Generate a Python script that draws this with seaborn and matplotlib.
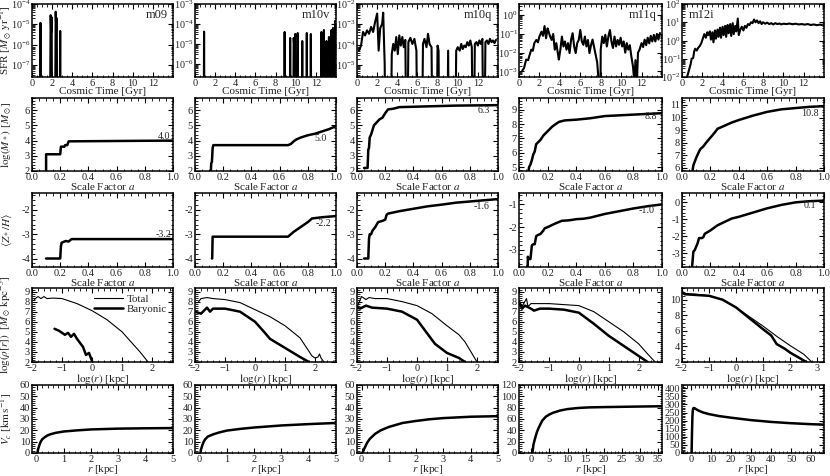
import numpy as np
import matplotlib
matplotlib.use("Agg")
import matplotlib.pyplot as plt
import seaborn as sns
from matplotlib.ticker import AutoMinorLocator, MultipleLocator, FuncFormatter, LogLocator, NullFormatter

sns.set_theme(style="ticks")
plt.rcParams['font.family'] = ['Liberation Serif', 'DejaVu Serif']
plt.rcParams['mathtext.fontset'] = 'stix'

names = ["m09", "m10v", "m10q", "m11q", "m12i"]

# ---------------- Row 1: SFR (log10 values; -12 = no star formation) ----------------
t_m09 = [0.0, 0.76, 0.84, 0.90, 1.76, 1.85, 1.90, 1.95, 2.01, 2.27, 2.35, 2.41, 2.46, 2.52, 2.73, 2.80, 2.86, 14.0]
lsfr_m09 = [-12, -12, -4.93, -12, -12, -4.55, -5.4, -4.65, -12, -12, -4.38, -5.3, -4.7, -12, -12, -5.33, -12, -12]

t_m10v = [0.0, 0.84, 0.9, 0.96, 8.82, 8.9, 8.98, 9.38, 9.45, 9.52, 9.72, 9.8, 9.86, 9.95, 10.02, 10.14, 10.2, 10.27,
          10.58, 10.65, 10.72, 11.03, 11.1, 11.17, 11.43, 11.5, 11.57, 12.48, 12.55, 12.62, 12.72, 12.8, 12.87, 12.98,
          13.05, 13.12, 13.23, 13.3, 13.37, 13.48, 13.55, 13.62, 13.7, 13.77, 13.84, 13.9, 14.0]
lsfr_m10v = [-12, -12, -4.38, -12, -12, -4.4, -12, -12, -4.7, -12, -12, -4.7, -5.2, -4.5, -12, -12, -4.45, -12,
             -12, -4.85, -12, -12, -4.45, -12, -12, -4.5, -12, -12, -4.4, -12, -12, -4.3, -12, -12,
             -4.85, -12, -12, -4.65, -12, -12, -4.3, -12, -4.2, -12, -12, -3.85, -3.85]

t_m10q = [0.2, 0.4, 0.6, 0.8, 1.0, 1.2, 1.4, 1.6, 1.8, 2.0, 2.15, 2.3, 2.5, 2.6, 2.75, 2.85, 3.3, 3.45, 3.6, 3.75,
          3.9, 4.05, 4.2, 4.35, 4.5, 4.65, 4.8, 4.95, 5.1, 5.3, 5.5, 5.7, 5.9, 6.05, 6.4, 6.55, 6.7, 6.9, 7.05,
          7.2, 7.4, 7.55, 7.85, 8.0, 8.1, 8.2, 8.9, 9.05, 9.15, 9.7, 9.85, 10.0, 10.2, 10.35, 10.5, 10.65, 10.8,
          10.95, 11.1, 11.25, 11.4, 11.55, 11.7, 11.85, 12.0, 12.15, 12.3, 12.45, 12.6, 12.75, 12.9, 13.05, 13.2,
          13.35, 13.5, 13.65, 13.8]
lsfr_m10q = [-4.3, -4.05, -3.38, -3.55, -3.3, -3.47, -3.13, -3.38, -2.88, -2.47, -4.3, -3.2, -2.97, -2.43, -4.97, -12, -12,
             -4.47, -3.97, -4.3, -3.63, -4.47, -3.55, -4.05, -3.63, -4.13, -3.77, -12, -3.88, -3.67, -3.97, -3.72,
             -4.3, -12, -12, -3.97, -3.72, -4.13, -3.47, -3.97, -4.13, -12, -12, -4.05, -4.3, -12, -12, -4.3, -12,
             -12, -4.3, -4.13, -4.3, -3.97, -4.22, -4.05, -4.13, -3.88, -4.05, -3.8, -4.13, -12, -3.97, -3.88,
             -4.05, -3.8, -3.97, -3.72, -12, -3.88, -3.8, -3.97, -3.72, -3.88, -3.8, -3.93, -3.77]

t_m11q = [0.3, 0.5, 0.7, 0.9, 1.0, 1.2, 1.35, 1.5, 1.7, 1.85, 2.0, 2.2, 2.35, 2.5, 2.65, 2.8, 2.9, 3.05, 3.2, 3.35,
          3.5, 3.65, 3.8, 3.9, 4.05, 4.2, 4.35, 4.5, 4.65, 4.8, 4.95, 5.1, 5.25, 5.4, 5.55, 5.7, 5.85, 6.0, 6.15,
          6.3, 6.45, 6.6, 6.75, 6.9, 7.05, 7.2, 7.35, 7.5, 7.65, 7.8, 7.9, 8.0, 8.15, 8.3, 8.45, 8.6, 8.75, 8.9,
          9.05, 9.2, 9.35, 9.5, 9.65, 9.8, 9.95, 10.1, 10.25, 10.4, 10.55, 10.7, 10.85, 11.0, 11.15, 11.3, 11.4,
          11.55, 11.65, 11.8, 12.0, 12.15, 12.3, 12.45, 12.6, 12.75, 12.9, 13.05, 13.2, 13.35, 13.5, 13.65, 13.8]
lsfr_m11q = [-2.98, -2.81, -2.37, -2.4, -2.19, -1.84, -1.9, -1.49, -1.32, -1.45, -1.14, -0.88, -1.1, -0.58, -1.23,
             -0.7, -0.88, -1.14, -1.32, -1.0, -1.84, -1.49, -2.02, -2.37, -1.84, -1.14, -1.67, -1.4, -1.84, -1.49,
             -2.02, -1.3, -0.96, -1.67, -2.02, -1.49, -1.32, -0.79, -1.4, -1.58, -1.14, -1.67, -1.32, -2.02, -1.6,
             -1.3, -1.7, -2.1, -2.5, -3.5, -12, -1.84, -1.14, -1.49, -1.05, -1.67, -1.14, -0.79, -1.4, -1.75, -1.14,
             -1.67, -1.32, -1.58, -1.2, -1.67, -1.4, -2.0, -1.49, -1.84, -1.6, -2.2, -2.7, -3.6, -2.4, -3.5, -2.0,
             -1.84, -1.49, -1.7, -1.3, -1.6, -1.2, -1.5, -1.1, -1.4, -1.05, -1.4, -1.0, -1.3, -0.95]

t_m12i = [0.4, 0.5, 0.7, 0.85, 0.95, 1.1, 1.2, 1.3, 1.45, 1.6, 1.75, 1.9, 2.05, 2.2, 2.35, 2.5, 2.6, 2.75, 2.85,
          3.0, 3.1, 3.25, 3.35, 3.5, 3.6, 3.75, 3.85, 4.0, 4.1, 4.25, 4.35, 4.5, 4.6, 4.75, 4.85, 5.0, 5.1, 5.25,
          5.35, 5.5, 5.6, 5.75, 5.9, 6.05, 6.2, 6.35, 6.5, 6.65, 6.8, 6.95, 7.1, 7.25, 7.4, 7.55, 7.7, 7.85, 8.0,
          8.2, 8.4, 8.6, 8.8, 9.0, 9.2, 9.4, 9.6, 9.8, 10.0, 10.3, 10.6, 10.9, 11.2, 11.5, 11.8, 12.1, 12.4, 12.7,
          13.0, 13.3, 13.6, 13.8]
lsfr_m12i = [-2.2, -2.0, -1.6, -1.3, -1.0, -0.96, -0.6, -0.45, -0.55, -0.4, -0.3, -0.15, 0.1, 0.35, 0.15, 0.45, 0.3,
             0.5, 0.05, 0.45, -0.1, 0.55, 0.1, 0.6, 0.2, 0.7, 0.15, 0.75, 0.3, 0.8, 0.2, 0.85, 0.4, 0.9, 0.25, 0.95,
             0.35, 0.8, 0.5, 1.2, 0.3, 0.6, 0.75, 0.55, 0.8, 0.7, 0.9, 0.85, 1.0, 0.95, 1.15, 1.0, 1.1, 0.95, 1.05,
             0.9, 1.0, 0.92, 0.98, 0.9, 0.95, 0.88, 0.95, 0.9, 0.93, 0.88, 0.92, 0.9, 0.93, 0.89, 0.92, 0.88, 0.9,
             0.87, 0.9, 0.85, 0.88, 0.84, 0.87, 0.85]

# ---------------- Row 2: log stellar mass vs scale factor ----------------
a_ms_m09 = [0.1, 0.1, 0.2, 0.205, 0.23, 0.235, 0.25, 0.26, 1.0]
ms_m09 = [1.5, 3.1, 3.1, 3.6, 3.6, 3.7, 3.7, 3.95, 4.0]
a_ms_m10v = [0.11, 0.115, 0.12, 0.125, 0.13, 0.66, 0.68, 0.7, 0.72, 0.75, 0.8, 0.85, 0.9, 0.95, 1.0]
ms_m10v = [1.5, 2.5, 2.6, 3.5, 3.7, 3.7, 3.78, 3.95, 4.08, 4.2, 4.35, 4.45, 4.6, 4.75, 4.95]
a_ms_m10q = [0.05, 0.075, 0.08, 0.085, 0.09, 0.1, 0.11, 0.12, 0.14, 0.16, 0.18, 0.2, 0.22, 0.26, 0.3, 0.5, 0.7, 1.0]
ms_m10q = [2.2, 2.2, 3.4, 3.5, 4.2, 4.4, 4.7, 5.0, 5.2, 5.4, 5.5, 5.8, 6.05, 6.1, 6.2, 6.25, 6.3, 6.33]
a_ms_m11q = [0.065, 0.07, 0.08, 0.09, 0.1, 0.11, 0.12, 0.13, 0.15, 0.17, 0.2, 0.23, 0.25, 0.28, 0.32, 0.4, 0.5,
             0.6, 0.7, 0.8, 0.9, 1.0]
ms_m11q = [4.6, 5.0, 5.2, 5.5, 5.9, 6.1, 6.6, 6.7, 6.9, 7.2, 7.5, 7.8, 7.95, 8.15, 8.25, 8.3, 8.4, 8.55, 8.6,
           8.65, 8.7, 8.75]
a_ms_m12i = [0.07, 0.08, 0.09, 0.1, 0.12, 0.13, 0.15, 0.17, 0.2, 0.23, 0.25, 0.3, 0.35, 0.4, 0.5, 0.6, 0.7, 0.8,
             0.9, 1.0]
ms_m12i = [5.5, 6.2, 6.5, 6.8, 7.3, 7.5, 7.7, 8.0, 8.4, 8.8, 9.1, 9.35, 9.6, 9.8, 10.15, 10.45, 10.65, 10.75,
           10.85, 10.9]
ms_final = ["4.0", "5.0", "6.3", "8.8", "10.8"]

# ---------------- Row 3: stellar metallicity vs scale factor ----------------
a_z_m09 = [0.1, 0.2, 0.205, 0.21, 0.23, 0.24, 0.26, 0.27, 0.28, 1.0]
z_m09 = [-4.0, -4.0, -3.5, -3.35, -3.3, -3.28, -3.3, -3.25, -3.2, -3.2]
a_z_m10v = [0.12, 0.122, 0.125, 0.66, 0.7, 0.75, 0.8, 0.83, 0.9, 1.0]
z_m10v = [-4.0, -4.0, -3.1, -3.1, -2.9, -2.7, -2.5, -2.35, -2.3, -2.25]
a_z_m10q = [0.05, 0.08, 0.085, 0.09, 0.1, 0.11, 0.13, 0.15, 0.18, 0.2, 0.21, 0.22, 0.3, 0.4, 0.5, 0.6, 0.7, 0.8,
            0.9, 1.0]
z_m10q = [-4.0, -4.0, -3.2, -3.0, -3.0, -2.85, -2.7, -2.5, -2.45, -2.4, -2.2, -2.15, -2.05, -1.95, -1.85, -1.78,
          -1.7, -1.65, -1.6, -1.55]
a_z_m11q = [0.06, 0.062, 0.066, 0.07, 0.08, 0.085, 0.09, 0.1, 0.11, 0.12, 0.13, 0.15, 0.17, 0.18, 0.2, 0.25, 0.3,
            0.35, 0.4, 0.45, 0.5, 0.6, 0.7, 0.8, 0.9, 1.0]
z_m11q = [-3.9, -3.3, -3.4, -3.4, -3.4, -3.1, -2.8, -2.75, -2.75, -2.4, -2.35, -2.3, -2.15, -2.05, -2.0, -1.85,
          -1.72, -1.7, -1.65, -1.63, -1.58, -1.42, -1.3, -1.18, -1.08, -1.0]
a_z_m12i = [0.07, 0.075, 0.08, 0.09, 0.1, 0.11, 0.12, 0.14, 0.15, 0.16, 0.2, 0.25, 0.3, 0.35, 0.4, 0.5, 0.6, 0.7,
            0.8, 0.9, 1.0]
z_m12i = [-3.9, -3.4, -2.9, -2.8, -2.6, -2.4, -2.1, -2.1, -2.05, -1.85, -1.65, -1.35, -1.15, -0.95, -0.85, -0.6,
          -0.35, -0.15, 0.0, 0.07, 0.1]
z_final = ["-3.2", "-2.2", "-1.6", "-1.0", "0.1"]

# ---------------- Row 4: density profiles ----------------
lr_tot_m09 = [-1.95, -1.85, -1.8, -1.7, -1.6, -1.5, -1.3, -1.0, -0.8, -0.5, 0.0, 0.5, 1.0, 1.3, 1.6, 1.87]
rho_tot_m09 = [8.1, 8.4, 8.5, 8.3, 8.5, 8.3, 8.35, 8.3, 8.1, 7.8, 7.1, 6.2, 5.0, 4.0, 3.0, 2.0]
lr_bar_m09 = [-1.25, -1.1, -1.0, -0.9, -0.8, -0.7, -0.6, -0.5, -0.4, -0.3, -0.2, -0.1, 0.0, 0.02]
rho_bar_m09 = [5.3, 5.1, 4.9, 4.7, 4.9, 4.5, 4.8, 4.3, 3.9, 3.5, 2.7, 2.9, 2.1, 1.5]

lr_tot_m10v = [-2.0, -1.9, -1.8, -1.6, -1.4, -1.0, -0.5, 0.0, 0.5, 1.0, 1.5, 1.9, 2.0, 2.1, 2.15, 2.2, 2.3]
rho_tot_m10v = [7.9, 7.9, 8.3, 8.4, 8.3, 8.2, 7.9, 7.2, 6.5, 5.6, 4.4, 2.6, 2.4, 2.5, 2.8, 2.4, 2.0]
lr_bar_m10v = [-2.0, -1.8, -1.6, -1.5, -1.4, -1.0, -0.5, 0.0, 0.3, 0.5, 1.0, 1.5, 1.8]
rho_bar_m10v = [7.0, 6.8, 7.4, 7.0, 7.3, 7.3, 7.0, 6.0, 5.0, 4.3, 3.4, 2.5, 2.0]

lr_tot_m10q = [-2.0, -1.85, -1.7, -1.6, -1.4, -1.0, -0.5, 0.0, 0.5, 1.0, 1.4, 1.6, 1.8, 2.0]
rho_tot_m10q = [7.4, 8.5, 8.2, 8.4, 8.3, 8.3, 8.0, 7.6, 6.8, 5.6, 4.7, 4.0, 3.0, 2.0]
lr_bar_m10q = [-2.0, -1.9, -1.7, -1.5, -1.0, -0.5, 0.0, 0.3, 0.6, 1.0, 1.4, 1.6]
rho_bar_m10q = [7.4, 7.3, 7.6, 7.4, 7.3, 7.0, 6.2, 5.0, 3.8, 2.9, 2.4, 2.0]

lr_tot_m11q = [-2.0, -1.9, -1.75, -1.7, -1.6, -1.3, -1.0, 0.0, 0.5, 1.0, 1.5, 2.0, 2.3, 2.55]
rho_tot_m11q = [8.1, 7.5, 8.3, 7.5, 7.8, 7.8, 7.8, 7.6, 7.0, 6.0, 5.0, 3.8, 2.8, 2.0]
lr_bar_m11q = [-2.0, -1.9, -1.8, -1.6, -1.5, -1.3, -1.0, -0.5, 0.0, 0.5, 1.0, 1.5, 2.0, 2.3]
rho_bar_m11q = [8.0, 7.3, 7.6, 7.3, 7.1, 7.3, 7.3, 7.2, 6.9, 5.8, 4.6, 3.6, 2.6, 2.0]

lr_tot_m12i = [-2.0, -1.5, -1.0, -0.5, 0.0, 0.5, 1.0, 1.5, 2.0, 2.5, 2.8]
rho_tot_m12i = [10.8, 10.7, 10.5, 10.0, 9.0, 7.8, 6.6, 5.3, 4.1, 3.0, 2.0]
lr_bar_m12i = [-2.0, -1.9, -1.0, -0.5, 0.0, 0.5, 1.0, 1.3, 1.5, 1.8, 2.0, 2.3, 2.6]
rho_bar_m12i = [11.0, 10.7, 10.5, 10.0, 9.0, 7.6, 6.2, 5.4, 4.3, 3.7, 3.2, 2.6, 2.0]

# ---------------- Row 5: circular velocity ----------------
r_m09 = [0.03, 0.05, 0.1, 0.15, 0.2, 0.3, 0.4, 0.5, 0.7, 1.0, 1.5, 2.0, 3.0, 4.0, 5.0]
vc_m09 = [0, 3, 7, 10, 12, 14, 15.5, 16.5, 17.8, 19, 20, 20.8, 21.5, 21.8, 22]
r_m10v = [0.03, 0.05, 0.1, 0.15, 0.2, 0.3, 0.4, 0.5, 0.7, 1.0, 1.5, 2.0, 3.0, 4.0, 5.0]
vc_m10v = [0, 3, 7, 10, 12, 14.5, 15.5, 16.5, 18, 19.8, 21.3, 22.5, 24.3, 25.5, 26.5]
r_m10q = [0.03, 0.1, 0.2, 0.3, 0.5, 0.7, 1.0, 1.5, 2.0, 2.5, 3.0, 4.0, 5.0]
vc_m10q = [0, 4, 9, 12.5, 17, 20, 23, 26.5, 28.3, 29.8, 30.8, 32, 32.5]
r_m11q = [0.3, 0.6, 1.0, 1.5, 2, 3, 4, 5, 6, 8, 10, 13, 16, 20, 25, 30, 36]
vc_m11q = [0, 15, 25, 36, 44, 57, 64, 68, 71, 75, 77.5, 79.5, 80.5, 81, 81.5, 82, 82.5]
r_m12i = [0.2, 0.4, 0.6, 0.8, 1.0, 1.3, 1.8, 2.5, 4, 6, 9, 14, 20, 30, 40, 50, 60, 67]
vc_m12i = [0, 120, 220, 262, 275, 278, 276, 270, 260, 250, 240, 228, 218, 203, 192, 184, 178, 175]

# ---------------- layout ----------------
W, H = 830, 476
fig = plt.figure(figsize=(8.3, 4.76), dpi=100)
col_left = [32, 195, 357, 519, 682]
col_w = [141, 141, 141, 143, 142]
row_top = [4, 98, 193, 288, 385]
row_h = [73, 73, 74, 74, 68]

FS = 7.5
LFS = 8.0
TXT = '#222222'
LW = 1.8


def mkax(r, c):
    l = col_left[c] / W
    b = 1 - (row_top[r] + row_h[r]) / H
    return fig.add_axes([l, b, col_w[c] / W, row_h[r] / H])


def style(ax):
    ax.set_facecolor('white')
    ax.tick_params(which='both', direction='in', top=True, right=True, labelsize=FS, pad=1.5,
                   colors='black', labelcolor=TXT)
    ax.tick_params(which='major', length=3.5, width=0.8)
    ax.tick_params(which='minor', length=1.8, width=0.6)
    for s in ax.spines.values():
        s.set_linewidth(1.1)
        s.set_color('black')
    ax.grid(False)


def line(ax, x, y, lw, label=None):
    sns.lineplot(x=np.asarray(x, float), y=np.asarray(y, float), ax=ax, color='black', linewidth=lw,
                 estimator=None, sort=False, label=label, legend=False)


hyph = FuncFormatter(lambda v, p: f"{int(round(v))}")

# Row 1
t_all = [t_m09, t_m10v, t_m10q, t_m11q, t_m12i]
l_all = [lsfr_m09, lsfr_m10v, lsfr_m10q, lsfr_m11q, lsfr_m12i]
sfr_ylim = [(-7.6, -4.0), (-6.65, -3.0), (-5.6, -2.0), (-3.3, 0.6), (-2.0, 2.0)]
for c in range(5):
    ax = mkax(0, c)
    style(ax)
    line(ax, t_all[c], 10.0 ** np.asarray(l_all[c], float), 1.5)
    ax.set_yscale('log')
    ax.set_ylim(10 ** sfr_ylim[c][0], 10 ** sfr_ylim[c][1])
    ax.yaxis.set_major_locator(LogLocator(base=10, numticks=20))
    ax.yaxis.set_minor_locator(LogLocator(base=10, subs=np.arange(2, 10) * 1.0, numticks=20))
    ax.yaxis.set_minor_formatter(NullFormatter())
    ax.tick_params(axis='y', which='major', labelsize=7.2, pad=1.0)
    ax.set_xlim(0, 14)
    ax.xaxis.set_minor_locator(MultipleLocator(0.5))
    ax.set_xticks([0, 2, 4, 6, 8, 10, 12])
    ax.set_xlabel('Cosmic Time [Gyr]', fontsize=LFS, labelpad=-0.5, color=TXT)
    ax.set_ylabel('')
    if c == 4:
        ax.text(0.05, 0.93, names[c], transform=ax.transAxes, ha='left', va='top', fontsize=9)
    else:
        ax.text(0.96, 0.93, names[c], transform=ax.transAxes, ha='right', va='top', fontsize=9)
    if c == 0:
        ax.set_ylabel(r'SFR [$M_\odot\,\mathrm{yr}^{-1}$]', fontsize=LFS, color=TXT)

# Row 2
a2 = [a_ms_m09, a_ms_m10v, a_ms_m10q, a_ms_m11q, a_ms_m12i]
m2 = [ms_m09, ms_m10v, ms_m10q, ms_m11q, ms_m12i]
ms_ylim = [(2, 6.8), (2, 6.8), (2, 6.8), (4.75, 9.8), (5.75, 11.55)]
ms_lab_pos = [(0.94, 4.3), (0.89, 4.15), (0.9, 5.95), (0.92, 8.5), (0.9, 10.35)]
for c in range(5):
    ax = mkax(1, c)
    style(ax)
    line(ax, a2[c], m2[c], LW)
    ax.set_xlim(0, 1)
    ax.set_ylim(*ms_ylim[c])
    ax.xaxis.set_major_locator(MultipleLocator(0.2))
    ax.xaxis.set_minor_locator(AutoMinorLocator(4))
    ax.xaxis.set_major_formatter(FuncFormatter(lambda v, p: f"{v:.1f}"))
    ax.yaxis.set_major_locator(MultipleLocator(1))
    ax.yaxis.set_minor_locator(AutoMinorLocator(5))
    ax.yaxis.set_major_formatter(hyph)
    ax.set_xlabel(r'Scale Factor $a$', fontsize=LFS, labelpad=-0.5, color=TXT)
    ax.set_ylabel('')
    x0, y0 = ms_lab_pos[c]
    ax.text(x0, y0, ms_final[c], ha='center', va='center', fontsize=7.2)
    if c == 0:
        ax.set_ylabel(r'$\log(M_*)$ [$M_\odot$]', fontsize=LFS, color=TXT)

# Row 3
a3 = [a_z_m09, a_z_m10v, a_z_m10q, a_z_m11q, a_z_m12i]
z3 = [z_m09, z_m10v, z_m10q, z_m11q, z_m12i]
z_ylim = [(-4.35, -1.3), (-4.35, -1.3), (-4.35, -1.3), (-3.75, -0.5), (-3.8, 0.55)]
z_lab_pos = [(0.93, -3.0), (0.91, -2.55), (0.88, -1.85), (0.89, -1.25), (0.9, -0.2)]
for c in range(5):
    ax = mkax(2, c)
    style(ax)
    line(ax, a3[c], z3[c], LW)
    ax.set_xlim(0, 1)
    ax.set_ylim(*z_ylim[c])
    ax.xaxis.set_major_locator(MultipleLocator(0.2))
    ax.xaxis.set_minor_locator(AutoMinorLocator(4))
    ax.xaxis.set_major_formatter(FuncFormatter(lambda v, p: f"{v:.1f}"))
    ax.yaxis.set_major_locator(MultipleLocator(1))
    ax.yaxis.set_minor_locator(AutoMinorLocator(5))
    ax.yaxis.set_major_formatter(hyph)
    ax.set_xlabel(r'Scale Factor $a$', fontsize=LFS, labelpad=-0.5, color=TXT)
    ax.set_ylabel('')
    x0, y0 = z_lab_pos[c]
    ax.text(x0, y0, z_final[c], ha='center', va='center', fontsize=7.2)
    if c == 0:
        ax.set_ylabel(r'$\langle Z_*/H\rangle$', fontsize=LFS, color=TXT)

# Row 4
tot_x = [lr_tot_m09, lr_tot_m10v, lr_tot_m10q, lr_tot_m11q, lr_tot_m12i]
tot_y = [rho_tot_m09, rho_tot_m10v, rho_tot_m10q, rho_tot_m11q, rho_tot_m12i]
bar_x = [lr_bar_m09, lr_bar_m10v, lr_bar_m10q, lr_bar_m11q, lr_bar_m12i]
bar_y = [rho_bar_m09, rho_bar_m10v, rho_bar_m10q, rho_bar_m11q, rho_bar_m12i]
rho_xlim = [(-2, 2.7), (-2, 2.7), (-2, 2.7), (-2, 2.78), (-2, 3.25)]
rho_ylim = [(2, 9.35), (2, 9.35), (2, 9.35), (2, 9.35), (2, 11.5)]
for c in range(5):
    ax = mkax(3, c)
    style(ax)
    line(ax, tot_x[c], tot_y[c], 0.8, label='Total' if c == 0 else None)
    line(ax, bar_x[c], bar_y[c], LW, label='Baryonic' if c == 0 else None)
    ax.set_xlim(*rho_xlim[c])
    ax.set_ylim(*rho_ylim[c])
    ax.xaxis.set_major_locator(MultipleLocator(1))
    ax.xaxis.set_minor_locator(AutoMinorLocator(5))
    ax.yaxis.set_major_locator(MultipleLocator(2 if c == 4 else 1))
    ax.yaxis.set_minor_locator(AutoMinorLocator(4 if c == 4 else 5))
    ax.yaxis.set_major_formatter(hyph)
    ax.set_xlabel(r'$\log(r)$ [kpc]', fontsize=LFS, labelpad=-0.5, color=TXT)
    ax.set_ylabel('')
    if c == 0:
        ax.set_ylabel(r'$\log(\rho[r])$  [$M_\odot\,\mathrm{kpc}^{-3}$]', fontsize=LFS, color=TXT)
        ax.legend(loc='upper right', frameon=False, fontsize=7.8, handlelength=2.6, borderaxespad=0.15,
                  labelspacing=0.1, handletextpad=0.4)

# Row 5
r5 = [r_m09, r_m10v, r_m10q, r_m11q, r_m12i]
v5 = [vc_m09, vc_m10v, vc_m10q, vc_m11q, vc_m12i]
vc_xlim = [(-0.17, 5), (-0.17, 5), (-0.17, 5), (-3.4, 36.1), (-4.6, 66.5)]
vc_ylim = [(0, 60), (0, 60), (0, 60), (0, 120), (0, 420)]
vc_xmaj = [1, 1, 1, 5, 10]
vc_ymaj = [10, 10, 10, 20, 50]
for c in range(5):
    ax = mkax(4, c)
    style(ax)
    line(ax, r5[c], v5[c], LW)
    ax.set_xlim(*vc_xlim[c])
    ax.set_ylim(*vc_ylim[c])
    ax.xaxis.set_major_locator(MultipleLocator(vc_xmaj[c]))
    ax.xaxis.set_minor_locator(AutoMinorLocator(5))
    ax.yaxis.set_major_locator(MultipleLocator(vc_ymaj[c]))
    ax.yaxis.set_minor_locator(AutoMinorLocator(5))
    ax.xaxis.set_major_formatter(hyph)
    ax.yaxis.set_major_formatter(hyph)
    ax.set_xlabel(r'$r$ [kpc]', fontsize=LFS, labelpad=-1.0, color=TXT)
    ax.set_ylabel('')
    if c == 0:
        ax.set_ylabel(r'$V_c$ [$\mathrm{km\,s}^{-1}$]', fontsize=LFS, color=TXT)

for ax in fig.axes:
    if ax.get_ylabel():
        ax.yaxis.set_label_coords(-0.125, 0.5)

fig.savefig('out.png', dpi=100, facecolor='white')
